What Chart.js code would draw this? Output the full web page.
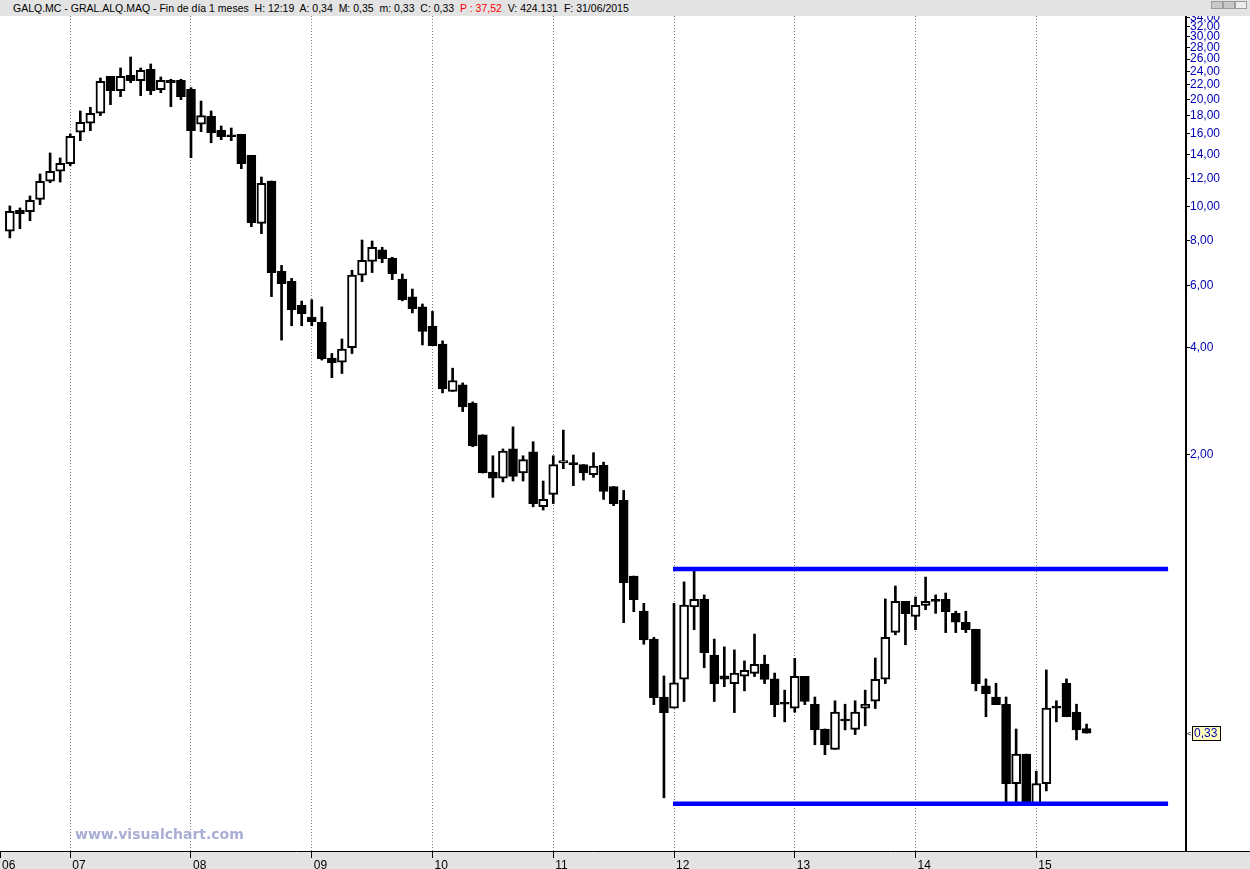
<!DOCTYPE html>
<html>
<head>
<meta charset="utf-8">
<script src="https://cdn.jsdelivr.net/npm/chart.js@4.4.0/dist/chart.umd.min.js"></script>
<style>
  html, body { margin: 0; padding: 0; background: #fff; }
  body { width: 1250px; height: 869px; position: relative; overflow: hidden; font-family: 'Liberation Sans', Arial, sans-serif; }
  #header { position: absolute; left: 0; top: 0; width: 1250px; height: 16px; background: #e3e3e3; font-size: 10.5px; line-height: 16px; color: #000; white-space: pre; }
  #header .txt { position: absolute; left: 13px; top: 0; }
  #header .red { color: #f00; }
  #header .btn { position: absolute; top: 1px; width: 10px; height: 6px; background: #c8c8c8; border: 1px solid #9a9a9a; }
  #wrap { position: absolute; left: 0; top: 16px; width: 1250px; height: 853px; }
  #watermark { position: absolute; left: 75px; top: 826px; font: bold 14px 'DejaVu Sans', Verdana, sans-serif; color: #a9aed3; }
</style>
</head>
<body>
<div id="header">
  <span class="txt">GALQ.MC - GRAL.ALQ.MAQ - Fin de día 1 meses  H: 12:19  A: 0,34  M: 0,35  m: 0,33  C: 0,33  <span class="red">P : 37,52</span>  V: 424.131  F: 31/06/2015</span>
  <span class="btn" style="left:1211px"></span>
  <span class="btn" style="left:1223px"></span>
  <span class="btn" style="left:1235px;background:#ededed"></span>
</div>
<div id="wrap"><canvas id="chart" width="1250" height="853"></canvas></div>
<div id="watermark">www.visualchart.com</div>
<script>
// monthly candles, Jul 2006 .. Jun 2015
const FIRST_YEAR = 2006
const FIRST_MONTH = 7

const OPEN = [
    8.52, 9.76, 9.67, 10.48, 11.78, 12.57,
    13.20, 16.18, 17.15, 18.30, 23.25, 21.18, 23.40, 22.60, 24.33, 21.32, 22.66, 22.66,
    21.37, 17.04, 17.95, 16.39, 15.87, 15.97, 13.94, 8.97, 11.80, 6.57, 6.16, 5.27,
    4.89, 4.72, 3.75, 3.65, 4.01, 6.41, 7.01, 7.55, 7.15, 6.25, 5.57, 5.22,
    4.61, 4.10, 3.02, 3.15, 2.80, 2.28, 1.79, 1.72, 2.08, 1.78, 2.04, 1.43,
    1.55, 1.90, 1.90, 1.88, 1.76, 1.87, 1.63, 1.49, 0.913, 0.728, 0.607, 0.417,
    0.388, 0.468, 0.747, 0.787, 0.547, 0.478, 0.455, 0.477, 0.486, 0.516, 0.469, 0.398,
    0.388, 0.477, 0.398, 0.339, 0.297, 0.357, 0.338, 0.388, 0.406, 0.468, 0.634, 0.775,
    0.703, 0.755, 0.775, 0.785, 0.717, 0.677, 0.647, 0.448, 0.417, 0.398, 0.238, 0.288,
    0.208, 0.238, 0.388, 0.456, 0.378, 0.34
]
const HIGH = [
    10.04, 9.91, 10.71, 12.35, 14.15, 13.70,
    16.00, 18.57, 19.02, 23.00, 23.25, 24.54, 26.35, 24.54, 25.18, 23.15, 22.81, 22.81,
    21.60, 19.81, 18.57, 16.85, 16.63, 15.97, 13.94, 12.11, 11.80, 6.83, 6.28, 5.42,
    5.47, 5.22, 3.86, 4.24, 6.62, 8.05, 8.00, 7.68, 7.20, 6.46, 5.86, 5.32,
    5.07, 4.19, 3.51, 3.19, 2.82, 2.28, 1.99, 2.08, 2.40, 1.99, 2.18, 1.69,
    1.99, 2.35, 2.00, 1.88, 2.03, 1.91, 1.63, 1.59, 0.913, 0.765, 0.614, 0.478,
    0.765, 0.879, 0.954, 0.808, 0.607, 0.577, 0.566, 0.527, 0.627, 0.547, 0.487, 0.436,
    0.536, 0.477, 0.417, 0.339, 0.407, 0.398, 0.407, 0.436, 0.537, 0.787, 0.856, 0.775,
    0.797, 0.907, 0.808, 0.818, 0.727, 0.727, 0.647, 0.469, 0.456, 0.417, 0.339, 0.288,
    0.258, 0.497, 0.407, 0.469, 0.398, 0.35
]
const LOW = [
    8.16, 8.66, 9.12, 10.12, 11.67, 11.72,
    13.03, 15.32, 16.35, 18.02, 19.35, 20.37, 22.31, 20.51, 20.64, 20.91, 19.10, 19.98,
    13.72, 16.24, 15.12, 15.42, 15.32, 12.78, 8.78, 8.39, 5.58, 4.21, 4.62, 4.62,
    4.62, 3.70, 3.30, 3.39, 3.86, 6.15, 6.52, 6.95, 6.23, 5.43, 5.02, 4.08,
    4.06, 2.99, 3.02, 2.65, 2.11, 1.78, 1.52, 1.68, 1.69, 1.69, 1.43, 1.40,
    1.46, 1.83, 1.64, 1.70, 1.73, 1.50, 1.44, 0.675, 0.725, 0.587, 0.397, 0.217,
    0.388, 0.405, 0.645, 0.504, 0.405, 0.446, 0.377, 0.434, 0.476, 0.455, 0.367, 0.355,
    0.378, 0.397, 0.306, 0.287, 0.297, 0.337, 0.327, 0.346, 0.387, 0.455, 0.624, 0.585,
    0.645, 0.734, 0.717, 0.633, 0.633, 0.633, 0.434, 0.367, 0.397, 0.207, 0.207, 0.207,
    0.207, 0.227, 0.355, 0.367, 0.316, 0.33
]
const CLOSE = [
    9.70, 9.55, 10.41, 11.78, 12.57, 13.23,
    15.76, 17.26, 18.30, 22.51, 21.18, 23.25, 22.60, 24.17, 21.18, 22.66, 22.31, 20.37,
    16.35, 18.02, 16.14, 15.72, 15.72, 13.20, 9.01, 11.63, 6.52, 6.07, 5.13, 5.00,
    4.74, 3.73, 3.64, 3.97, 6.41, 7.06, 7.68, 7.13, 6.47, 5.46, 5.16, 4.45,
    4.06, 3.07, 3.24, 2.73, 2.12, 1.78, 1.72, 2.05, 1.74, 1.94, 1.46, 1.50,
    1.88, 1.93, 1.88, 1.78, 1.86, 1.58, 1.46, 0.875, 0.783, 0.604, 0.415, 0.377,
    0.457, 0.757, 0.785, 0.556, 0.455, 0.468, 0.487, 0.496, 0.515, 0.467, 0.397, 0.398,
    0.477, 0.405, 0.337, 0.306, 0.378, 0.357, 0.378, 0.398, 0.468, 0.614, 0.775, 0.715,
    0.755, 0.775, 0.775, 0.725, 0.677, 0.645, 0.455, 0.426, 0.397, 0.238, 0.288, 0.207,
    0.238, 0.388, 0.388, 0.367, 0.337, 0.33
]

// support / resistance channel drawn on the chart (month index, price)
const CHANNEL_START = 65.9
const CHANNEL_END = 115.1
const RESISTANCE = 0.956
const SUPPORT = 0.209

const Y_TICKS = [2, 4, 6, 8, 10, 12, 14, 16, 18, 20, 22, 24, 26, 28, 30, 32, 34]
const Y_MIN = 0.1538
const Y_MAX = 34.36
const X_MIN = -0.98
const X_MAX = 116.88

// --- derived ---
const months = OPEN.map((_, i) => {
    const m = FIRST_MONTH - 1 + i
    return { year: FIRST_YEAR + Math.floor(m / 12), month: (m % 12) + 1 }
})
const xTicks = [{ value: X_MIN, label: String(FIRST_YEAR).slice(2) }]
months.forEach((m, i) => {
    if (m.month === 1) xTicks.push({ value: i, label: String(m.year).slice(2) })
})

const bodies = OPEN.map((o, i) => ({ x: i, y: [o, CLOSE[i]] }))
const wicks = LOW.map((l, i) => ({ x: i, y: [l, HIGH[i]] }))
const bodyColors = OPEN.map((o, i) => CLOSE[i] > o ? '#ffffff' : '#000000')

const fmt = v => Number(v).toFixed(2).replace('.', ',')
const FONT = "'Liberation Sans', Arial, sans-serif"

const chromePlugin = {
    id: 'chrome',
    beforeDraw(chart) {
        const { ctx, chartArea, width, height } = chart
        ctx.save()
        ctx.fillStyle = '#e3e3e3'
        ctx.fillRect(0, chartArea.bottom, width, height - chartArea.bottom)
        ctx.restore()
    },
    afterDraw(chart) {
        const { ctx, chartArea, width } = chart
        ctx.save()
        ctx.strokeStyle = '#000'
        ctx.lineWidth = 1
        ctx.beginPath()
        ctx.moveTo(chartArea.right, chartArea.bottom + 0.5)
        ctx.lineTo(width, chartArea.bottom + 0.5)
        ctx.stroke()

        // last price tag
        const last = CLOSE[CLOSE.length - 1]
        const y = Math.round(chart.scales.y.getPixelForValue(last))
        const x = chartArea.right + 6
        ctx.fillStyle = '#ffffc0'
        ctx.fillRect(x, y - 7, 29, 15)
        ctx.strokeRect(x + 0.5, y - 6.5, 28, 14)
        ctx.fillStyle = '#0000b4'
        ctx.font = '12px ' + FONT
        ctx.textBaseline = 'middle'
        ctx.fillText(fmt(last), x + 2, y + 1)
        ctx.fillStyle = '#000'
        ctx.font = '8px ' + FONT
        ctx.fillText('<', x - 5, y + 1)
        ctx.restore()
    }
}

new Chart(document.getElementById('chart'), {
    type: 'bar',
    data: {
        datasets: [
            { type: 'line', data: [{ x: CHANNEL_START, y: RESISTANCE }, { x: CHANNEL_END, y: RESISTANCE }], borderColor: '#0000ff', borderWidth: 4.5, pointRadius: 0, order: 0 },
            { type: 'line', data: [{ x: CHANNEL_START, y: SUPPORT }, { x: CHANNEL_END, y: SUPPORT }], borderColor: '#0000ff', borderWidth: 4.5, pointRadius: 0, order: 0 },
            { data: bodies, backgroundColor: bodyColors, borderColor: '#000', borderWidth: 2, borderSkipped: false, barThickness: 9, grouped: false, minBarLength: 2, order: 1 },
            { data: wicks, backgroundColor: '#000', borderWidth: 0, barThickness: 2, grouped: false, order: 2 }
        ]
    },
    options: {
        responsive: false,
        animation: false,
        devicePixelRatio: 1,
        layout: { padding: 0 },
        plugins: { legend: { display: false }, tooltip: { enabled: false } },
        scales: {
            x: {
                type: 'linear', min: X_MIN, max: X_MAX, bounds: 'data', offset: false,
                afterBuildTicks: s => { s.ticks = xTicks.map(t => ({ value: t.value })) },
                afterFit: s => { s.height = 18; s.paddingLeft = 0; s.paddingRight = 0 },
                ticks: {
                    autoSkip: false, maxRotation: 0, align: 'start', labelOffset: 2, padding: 0,
                    color: '#000', font: { family: FONT, size: 12 },
                    callback: (v, i) => xTicks[i].label
                },
                grid: {
                    offset: false,
                    color: c => (c.tick && c.tick.value === X_MIN) ? 'rgba(0,0,0,0)' : '#7a7a7a',
                    lineWidth: 1, tickColor: '#000', tickLength: 7, tickWidth: 1
                },
                border: { display: true, color: '#000', width: 1, dash: [1, 2] }
            },
            y: {
                type: 'logarithmic', position: 'right', min: Y_MIN, max: Y_MAX, bounds: 'data',
                afterBuildTicks: s => { s.ticks = Y_TICKS.map(v => ({ value: v })) },
                afterFit: s => { s.width = 64; s.paddingTop = 0; s.paddingBottom = 0 },
                ticks: {
                    autoSkip: false, padding: 0, color: '#0000b4',
                    font: { family: FONT, size: 12 },
                    callback: v => fmt(v)
                },
                grid: { drawOnChartArea: false, tickLength: 4, tickColor: '#000', tickWidth: 1 },
                border: { display: true, color: '#000', width: 2 }
            }
        }
    },
    plugins: [chromePlugin]
})
</script>
</body>
</html>
